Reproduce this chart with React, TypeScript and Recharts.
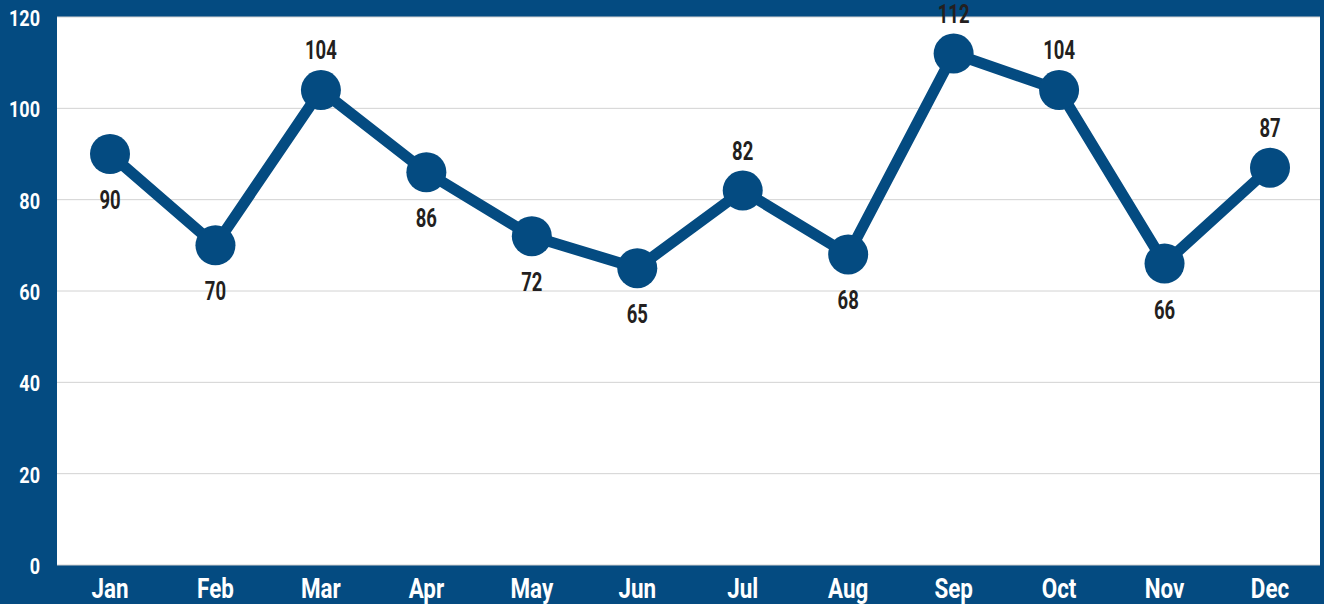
import React from 'react';
import { LineChart, Line, XAxis, YAxis, CartesianGrid, LabelList } from 'recharts';

const months = ['Jan', 'Feb', 'Mar', 'Apr', 'May', 'Jun', 'Jul', 'Aug', 'Sep', 'Oct', 'Nov', 'Dec'];
const values = [90, 70, 104, 86, 72, 65, 82, 68, 112, 104, 66, 87];
const yTicks = [0, 20, 40, 60, 80, 100, 120];
// months whose value label sits above the marker
const labelsAbove = ['Mar', 'Jul', 'Sep', 'Oct', 'Dec'];

const data = months.map((m, i) => ({ month: m, value: values[i] }));

const BLUE = '#044b81';
const FONT = 'Roboto, "DejaVu Sans", sans-serif';

// narrow, condensed-looking text drawn by squeezing a bold face horizontally
const Narrow = ({ x, y, anchor = 'middle', size, fill, sx = 0.78, children }: any) => (
  <text
    transform={`translate(${x},${y}) scale(${sx},1)`}
    textAnchor={anchor}
    fill={fill}
    fontFamily={FONT}
    fontWeight="bold"
    fontSize={size}
  >
    {children}
  </text>
);

const ValueLabel = (props: any) => {
  const { x, y, value, index } = props;
  const above = labelsAbove.includes(months[index]);
  return (
    <Narrow x={x} y={above ? y - 31 : y + 55} size={25} fill="#231f20" sx={0.74}>
      {value}
    </Narrow>
  );
};

const MonthTick = (props: any) => {
  const { x, y, payload } = props;
  return (
    <Narrow x={x} y={y + 25} size={28} fill="#ffffff" sx={0.8}>
      {payload.value}
    </Narrow>
  );
};

const ValueTick = (props: any) => {
  const { y, payload } = props;
  return (
    <Narrow x={40} y={y + 9} anchor="end" size={22} fill="#ffffff" sx={0.82}>
      {payload.value}
    </Narrow>
  );
};

export default function App() {
  return (
    <div style={{ position: 'absolute', left: 0, top: 0, width: 1324, height: 604, background: BLUE }}>
      <LineChart
        width={1324}
        height={604}
        data={data}
        margin={{ top: 17, right: 4, bottom: 0, left: 0 }}
      >
        <CartesianGrid vertical={false} stroke="#d2d2d2" fill="#ffffff" />
        <XAxis
          dataKey="month"
          height={39}
          axisLine={false}
          tickLine={false}
          interval={0}
          padding={{ left: 53, right: 50 }}
          tick={<MonthTick />}
        />
        <YAxis
          width={57}
          domain={[0, 120]}
          ticks={yTicks}
          axisLine={false}
          tickLine={false}
          tick={<ValueTick />}
        />
        <Line
          type="linear"
          dataKey="value"
          stroke={BLUE}
          strokeWidth={11}
          dot={{ r: 20, fill: BLUE, stroke: 'none' }}
          activeDot={false}
          isAnimationActive={false}
        >
          <LabelList dataKey="value" content={<ValueLabel />} />
        </Line>
      </LineChart>
    </div>
  );
}
